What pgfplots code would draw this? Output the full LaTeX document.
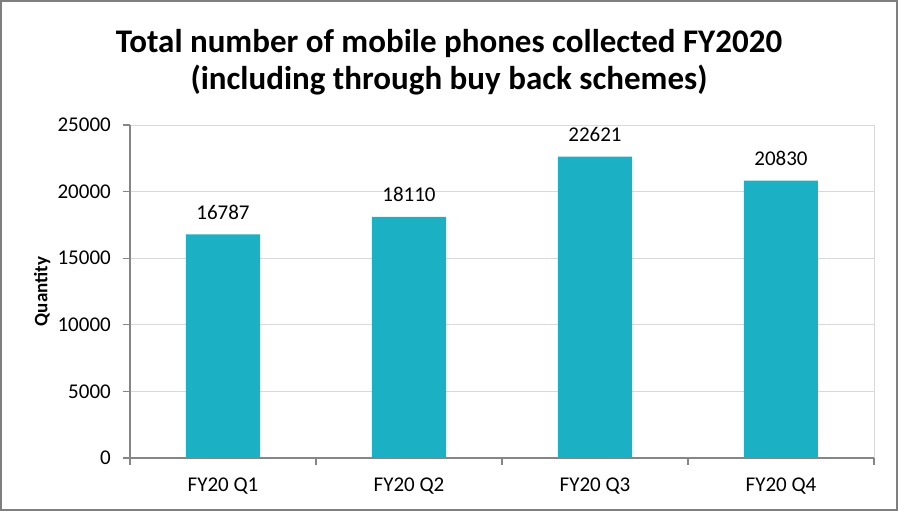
\documentclass[border=0pt]{standalone}
\usepackage{pgfplots}
\pgfplotsset{compat=1.18}
\usepackage{fontspec}
\setmainfont{Carlito}

\definecolor{barteal}{HTML}{1BB0C3}
\definecolor{gridgray}{HTML}{D9D9D9}
\definecolor{axisgray}{HTML}{868686}
\definecolor{framegray}{HTML}{7F7F7F}

\begin{document}
\begin{tikzpicture}[x=1pt,y=1pt]
    \useasboundingbox (0,0) rectangle (898,511);
    \draw[framegray, line width=2pt] (1,1) rectangle (897,510);

    % title, two lines
    \node[anchor=base, font=\fontsize{33}{40}\selectfont\bfseries] at (449,458)
        {Total number of mobile phones collected FY2020};
    \node[anchor=base, font=\fontsize{33}{40}\selectfont\bfseries] at (449,421)
        {(including through buy back schemes)};

    \begin{axis}[
        at={(130pt,53pt)}, anchor=south west,
        scale only axis,
        width=744pt, height=333pt,
        xmin=-0.5, xmax=3.5,
        ymin=0, ymax=25000,
        ytick={0,5000,...,25000},
        xtick={0,1,2,3},
        xticklabels={FY20 Q1,FY20 Q2,FY20 Q3,FY20 Q4},
        minor xtick={-0.5,0.5,1.5,2.5,3.5},
        extra x ticks={3.5},
        extra x tick labels={},
        extra x tick style={grid=major, major grid style={gridgray, line width=0.8pt}, major tick length=0pt},
        scaled y ticks=false,
        /pgf/number format/1000 sep={},
        /pgf/number format/assume math mode=true,
        ticklabel style={font=\fontsize{21}{24}\selectfont, text=black, inner sep=0pt},
        yticklabel style={anchor=east, xshift=-12pt},
        xticklabel style={anchor=base, yshift=-27pt},
        tick align=outside,
        major x tick style={draw=none},
        major y tick style={axisgray, line width=1.2pt},
        minor x tick style={axisgray, line width=1.2pt},
        major tick length=7pt,
        minor tick length=7pt,
        axis lines*=left,
        axis line style={axisgray, line width=1.2pt, -},
        ymajorgrids,
        major grid style={gridgray, line width=0.8pt},
        ylabel={\bfseries Quantity},
        ylabel style={font=\fontsize{19}{22}\selectfont, at={(axis description cs:-0.118,0.5)}, anchor=center},
        nodes near coords,
        every node near coord/.append style={font=\fontsize{21}{24}\selectfont, anchor=base, inner sep=0pt, yshift=15pt, text=black},
    ]
        \addplot[ybar, bar width=74pt, fill=barteal, draw=none] coordinates {
            (0,16787)
            (1,18110)
            (2,22621)
            (3,20830)
        };
    \end{axis}
\end{tikzpicture}
\end{document}
